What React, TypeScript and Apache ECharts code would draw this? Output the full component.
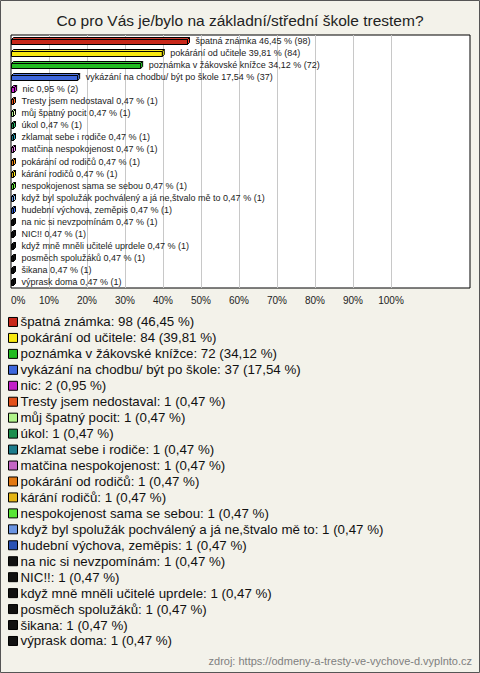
import React, { useEffect, useRef } from "react";
import * as echarts from "echarts";

const TITLE = "Co pro Vás je/bylo na základní/střední škole trestem?";
const SOURCE = "zdroj: https://odmeny-a-tresty-ve-vychove-d.vyplnto.cz";

const categories = [
  "špatná známka",
  "pokárání od učitele",
  "poznámka v žákovské knížce",
  "vykázání na chodbu/ být po škole",
  "nic",
  "Tresty jsem nedostaval",
  "můj špatný pocit",
  "úkol",
  "zklamat sebe i rodiče",
  "matčina nespokojenost",
  "pokárání od rodičů",
  "kárání rodičů",
  "nespokojenost sama se sebou",
  "když byl spolužák pochválený a já ne,štvalo mě to",
  "hudební výchova, zeměpis",
  "na nic si nevzpomínám",
  "NIC!!",
  "když mně mněli učitelé uprdele",
  "posměch spolužáků",
  "šikana",
  "výprask doma",
];

const counts = [98, 84, 72, 37, 2, 1, 1, 1, 1, 1, 1, 1, 1, 1, 1, 1, 1, 1, 1, 1, 1];

const percents = [
  46.45, 39.81, 34.12, 17.54, 0.95, 0.47, 0.47, 0.47, 0.47, 0.47, 0.47, 0.47, 0.47,
  0.47, 0.47, 0.47, 0.47, 0.47, 0.47, 0.47, 0.47,
];

const colors = [
  "#c8281a", "#f7e810", "#22bb22", "#3d66dc", "#c21ec8", "#e2501a", "#b0f48a",
  "#1c8e4e", "#1d7c8c", "#c466c4", "#e27812", "#e4b414", "#58e436", "#6a94e2",
  "#2a52b4", "#111111", "#111111", "#111111", "#111111", "#111111", "#111111",
];

const gridTicks = [10, 20, 30, 40, 50, 60, 70, 80, 90, 100];

const fmtPct = (p: number) => p.toFixed(2).replace(".", ",");

export default function App() {
  const ref = useRef<HTMLDivElement>(null);
  useEffect(() => {
    if (!ref.current) return;
    const chart = echarts.init(ref.current, undefined, { renderer: "svg" });

    const barSeries = categories.map((name, i) => ({
      type: "custom",
      name,
      z: 3,
      itemStyle: { color: colors[i] },
      encode: { x: 0, y: 1 },
      data: [[percents[i], i]],
      renderItem: (params: any, api: any) => {
        const v = api.value(0);
        const ci = api.value(1);
        const p0 = api.coord([0, ci]);
        const p1 = api.coord([v, ci]);
        const d = 2;
        const cy = Math.round(p0[1]) + 0.5;
        const top = cy - 2;
        const bot = cy + 3;
        const x0 = Math.round(p0[0]) + 0.5;
        const x1 = Math.max(x0 + 2, p1[0]);
        const c = colors[i];
        const dark = echarts.color.lift(c, -0.35);
        const light = echarts.color.lift(c, 0.1);
        const st = { stroke: "#000", lineWidth: 1 };
        return {
          type: "group",
          children: [
            {
              type: "polygon",
              shape: { points: [[x0, top], [x0 + d, top - d], [x1 + d, top - d], [x1, top]] },
              style: { ...st, fill: light },
            },
            {
              type: "polygon",
              shape: { points: [[x1, top], [x1 + d, top - d], [x1 + d, bot - d], [x1, bot]] },
              style: { ...st, fill: dark },
            },
            {
              type: "rect",
              shape: { x: x0, y: top, width: x1 - x0, height: bot - top },
              style: { ...st, fill: c },
            },
            {
              type: "text",
              x: x1 + d + 6,
              y: p0[1],
              style: {
                text: `${categories[i]} ${fmtPct(percents[i])} % (${counts[i]})`,
                fill: "#222",
                fontSize: 9,
                fontFamily: "Liberation Sans, Arial, sans-serif",
                align: "left",
                verticalAlign: "middle",
              },
            },
          ],
        };
      },
    }));

    const gridSeries = {
      type: "custom",
      name: "__grid",
      z: 1,
      silent: true,
      encode: { x: 0, y: 1 },
      data: gridTicks.map((t) => [t, 0]),
      renderItem: (params: any, api: any) => {
        const p = api.coord([api.value(0), 0]);
        const cs = params.coordSys;
        const x = Math.round(p[0]) + 0.5;
        return {
          type: "line",
          shape: { x1: x, y1: cs.y, x2: x, y2: cs.y + cs.height },
          style: { stroke: "#c8c8c8", lineWidth: 1 },
        };
      },
    };

    const option: any = {
      animation: false,
      backgroundColor: "#f3f2ea",
      title: {
        text: TITLE,
        left: "center",
        top: 12,
        padding: 0,
        textStyle: {
          fontSize: 15.5,
          fontWeight: "normal",
          color: "#222",
          fontFamily: "Liberation Sans, Arial, sans-serif",
        },
      },
      grid: {
        left: 11,
        right: 10,
        top: 35,
        bottom: 385,
        show: true,
        backgroundColor: "#fff",
        borderColor: "#000",
        borderWidth: 1,
      },
      xAxis: {
        type: "value",
        min: 0,
        max: 120.79,
        interval: 10,
        axisLine: { show: false },
        axisTick: { show: false },
        splitLine: { show: false },
        axisLabel: {
          color: "#222",
          fontSize: 10,
          margin: 7,
          fontFamily: "Liberation Sans, Arial, sans-serif",
          alignMinLabel: "left",
          showMaxLabel: false,
          formatter: (v: number) => (v <= 100 ? `${v}%` : ""),
        },
      },
      yAxis: {
        type: "category",
        inverse: true,
        data: categories,
        show: false,
      },
      legend: {
        orient: "vertical",
        left: 8,
        top: 314,
        padding: 0,
        icon: "rect",
        itemWidth: 9,
        itemHeight: 9,
        itemGap: 0,
        selectedMode: false,
        data: categories,
        itemStyle: { borderColor: "#000", borderWidth: 1 },
        textStyle: {
          fontSize: 13.3,
          lineHeight: 15.95,
          color: "#111",
          padding: [0, 0, 0, -2],
          fontFamily: "Liberation Sans, Arial, sans-serif",
        },
        formatter: (name: string) => {
          const i = categories.indexOf(name);
          return `${name}: ${counts[i]} (${fmtPct(percents[i])} %)`;
        },
      },
      graphic: [
        {
          type: "text",
          right: 8,
          top: 655,
          style: {
            text: SOURCE,
            fill: "#808080",
            fontSize: 11,
            fontFamily: "Liberation Sans, Arial, sans-serif",
          },
        },
        {
          type: "rect",
          shape: { x: 0.5, y: 0.5, width: 479, height: 672 },
          style: { fill: "none", stroke: "#555", lineWidth: 1 },
          silent: true,
        },
      ],
      series: [gridSeries, ...barSeries],
    };

    chart.setOption(option);
    return () => chart.dispose();
  }, []);

  return (
    <div
      ref={ref}
      style={{ position: "fixed", left: 0, top: 0, width: 480, height: 673 }}
    />
  );
}
